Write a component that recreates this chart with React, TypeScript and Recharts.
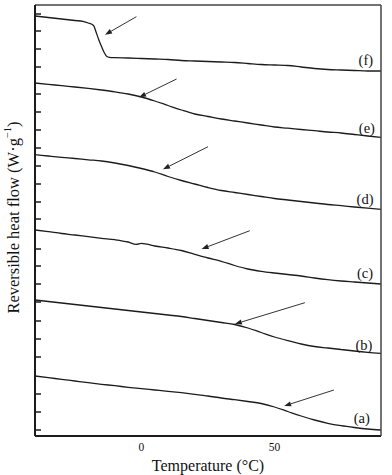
import {
  LineChart,
  Line,
  XAxis,
  YAxis,
  ReferenceLine,
  ReferenceDot,
} from "recharts";

// temperature grids (°C)
const TEMPS = [-40, -35, -30, -25, -20, -15, -10, -5, 0, 5, 10, 15, 20, 25, 30, 35, 40, 45, 50, 55, 60, 65, 70, 75, 80, 85, 90];
const TEMPS_C = [-40, -35, -30, -25, -20, -15, -10, -5, -2, 0, 2, 5, 10, 15, 20, 25, 30, 35, 40, 45, 50, 55, 60, 65, 70, 75, 80, 85, 90];
const TEMPS_F = [-40, -35, -30, -25, -22, -20, -18, -17, -16, -15, -14, -13, -12, -10, -5, 0, 5, 10, 15, 20, 25, 30, 35, 40, 45, 50, 55, 60, 65, 70, 75, 80, 85, 90];

// reversible heat flow, arbitrary offset units (curves stacked)
const A_VALS = [60, 58.3, 56.7, 55, 53.3, 51.7, 50.3, 48.7, 47.3, 46, 44.7, 43.3, 41.7, 40, 38, 36.3, 34.5, 32.5, 29, 24.5, 20, 16, 12.7, 10.3, 8.5, 7, 6];
const B_VALS = [136, 134.5, 133, 131.5, 130, 128.5, 127, 125.5, 124, 122.5, 121, 119.5, 117.5, 115.5, 113.5, 111.5, 108, 103.5, 99, 95.3, 92, 89.5, 88, 86.5, 85, 83.7, 82.7];
const C_VALS = [206, 204.3, 202.5, 201, 199.3, 197.7, 196.3, 194, 191.7, 192.7, 191.8, 190, 188, 185.5, 181.7, 178, 174.7, 170.5, 167, 164.7, 163, 161.5, 160, 158, 156.3, 155, 154, 153, 152];
const D_VALS = [281.3, 280, 278.7, 277.5, 276.2, 275, 273, 270.5, 267.5, 264, 259.5, 255.5, 252, 248.5, 245.5, 243.5, 241.5, 239.5, 237.5, 236, 234.5, 233, 231.5, 230.3, 229, 227.8, 226.7];
const E_VALS = [353, 351.7, 350.3, 349, 347.6, 346, 344.2, 342, 339, 335, 330.5, 326, 322, 319.5, 317, 315, 313, 311, 309, 307.8, 306.5, 305.3, 304, 303, 301.5, 300, 298.7];
const F_VALS = [420, 418.5, 417, 415.5, 414.6, 413, 410.5, 403.5, 396, 389.5, 383.5, 379.5, 378.7, 378.3, 378, 377.5, 377, 376.5, 375.5, 375, 374.5, 374, 373.5, 372.5, 371.5, 371, 370.5, 369, 367.5, 366.5, 366, 365.5, 365, 365];

const X_LABEL_TICKS = [0, 50];
const X_MINOR_TICKS = [-25, 25, 75];
const Y_TICKS = [6, 24, 42, 79, 97, 115, 134, 152, 170, 187, 217, 234, 252, 270, 288, 306, 324, 342, 369, 387, 405, 422];

const CURVE_NAMES = ["(a)", "(b)", "(c)", "(d)", "(e)", "(f)"];
const NAME_T = [82.8, 83.6, 84, 84, 84.7, 84.3];
const NAME_V = [18, 91, 163, 237, 308, 376];

// arrows: tail -> head
const ARROW_FROM_T = [72.3, 61.4, 40.7, 25, 13.2, -1.9];
const ARROW_FROM_V = [46, 133.3, 205.3, 289.3, 357, 419.3];
const ARROW_TO_T = [53.6, 35.1, 22.6, 8.1, -0.9, -13.7];
const ARROW_TO_V = [30, 112, 187, 266.7, 338.7, 401.3];

const FONT = "'Liberation Serif', 'Times New Roman', serif";
const INK = "#1c1c1c";

const toPts = (ts: number[], vs: number[]) => ts.map((t, i) => ({ t, v: vs[i] }));

const SERIES = [
  toPts(TEMPS, A_VALS),
  toPts(TEMPS, B_VALS),
  toPts(TEMPS_C, C_VALS),
  toPts(TEMPS, D_VALS),
  toPts(TEMPS, E_VALS),
  toPts(TEMPS_F, F_VALS),
];

function Arrow(props: any) {
  const { x1, y1, x2, y2 } = props;
  const ang = Math.atan2(y2 - y1, x2 - x1);
  const len = 7;
  const w = 2.6;
  const bx = x2 - len * Math.cos(ang);
  const by = y2 - len * Math.sin(ang);
  const p1 = `${bx + w * Math.sin(ang)},${by - w * Math.cos(ang)}`;
  const p2 = `${bx - w * Math.sin(ang)},${by + w * Math.cos(ang)}`;
  return (
    <g>
      <line x1={x1} y1={y1} x2={bx} y2={by} stroke="#333" strokeWidth={1} />
      <polygon points={`${x2},${y2} ${p1} ${p2}`} fill="#222" />
    </g>
  );
}

export default function App() {
  const blank = () => "";
  return (
    <div style={{ position: "absolute", left: 0, top: 0, width: 392, height: 475, background: "#fff" }}>
      <LineChart width={392} height={475} margin={{ top: 5, right: 11, bottom: 0, left: 35 }}>
        <XAxis
          dataKey="t"
          type="number"
          domain={[-40, 90]}
          ticks={X_LABEL_TICKS}
          allowDataOverflow
          tickLine={false}
          tickSize={6}
          tickMargin={1}
          height={39}
          axisLine={{ stroke: INK, strokeWidth: 2 }}
          tick={{ fill: "#111", fontSize: 11.5, fontFamily: FONT }}
          label={{
            content: (p: any) => {
              const vb = p.viewBox;
              return (
                <text x={vb.x + vb.width / 2} y={vb.y + 29} textAnchor="middle" dominantBaseline="central" fontFamily={FONT} fontSize={16} fill="#111">
                  Temperature (°C)
                </text>
              );
            },
          }}
        />
        <XAxis xAxisId="major" dataKey="t" type="number" domain={[-40, 90]} ticks={X_LABEL_TICKS} mirror axisLine={false} tickSize={6} tickFormatter={blank} tickLine={{ stroke: INK, strokeWidth: 1.5 }} />
        <XAxis xAxisId="minor" dataKey="t" type="number" domain={[-40, 90]} ticks={X_MINOR_TICKS} mirror axisLine={false} tickSize={3} tickFormatter={blank} tickLine={{ stroke: INK, strokeWidth: 1.5 }} />
        <XAxis xAxisId="top" orientation="top" type="number" domain={[-40, 90]} mirror tick={false} tickLine={false} axisLine={{ stroke: "#444", strokeWidth: 1.5 }} />
        <YAxis
          type="number"
          domain={[0, 431]}
          ticks={Y_TICKS}
          mirror
          tickSize={6}
          tickFormatter={blank}
          tickLine={{ stroke: INK, strokeWidth: 1.5 }}
          axisLine={{ stroke: INK, strokeWidth: 2 }}
          label={{
            content: (p: any) => {
              const vb = p.viewBox;
              const cy = vb.y + vb.height / 2 - 3;
              return (
                <text x={13} y={cy} transform={`rotate(-90 13 ${cy})`} textAnchor="middle" dominantBaseline="central" fontFamily={FONT} fontSize={16.5} fill="#111">
                  Reversible heat flow (W·g
                  <tspan fontSize={10.5} dy={-6}>−1</tspan>
                  <tspan dy={6}>)</tspan>
                </text>
              );
            },
          }}
        />
        <YAxis yAxisId="right" orientation="right" type="number" domain={[0, 431]} mirror tick={false} tickLine={false} axisLine={{ stroke: "#444", strokeWidth: 1.5 }} />
        {SERIES.map((pts, i) => (
          <Line
            key={CURVE_NAMES[i]}
            data={pts}
            dataKey="v"
            type="monotone"
            stroke={INK}
            strokeWidth={1.3}
            dot={false}
            activeDot={false}
            isAnimationActive={false}
          />
        ))}
        {ARROW_FROM_T.map((t, i) => (
          <ReferenceLine
            key={`arrow-${i}`}
            segment={[
              { x: t, y: ARROW_FROM_V[i] },
              { x: ARROW_TO_T[i], y: ARROW_TO_V[i] },
            ]}
            shape={Arrow}
          />
        ))}
        {CURVE_NAMES.map((name, i) => (
          <ReferenceDot
            key={name}
            x={NAME_T[i]}
            y={NAME_V[i]}
            r={0}
            stroke="none"
            fill="none"
            label={{ value: name, position: "center", fontFamily: FONT, fontSize: 14.5, fill: "#111" }}
          />
        ))}
      </LineChart>
    </div>
  );
}
